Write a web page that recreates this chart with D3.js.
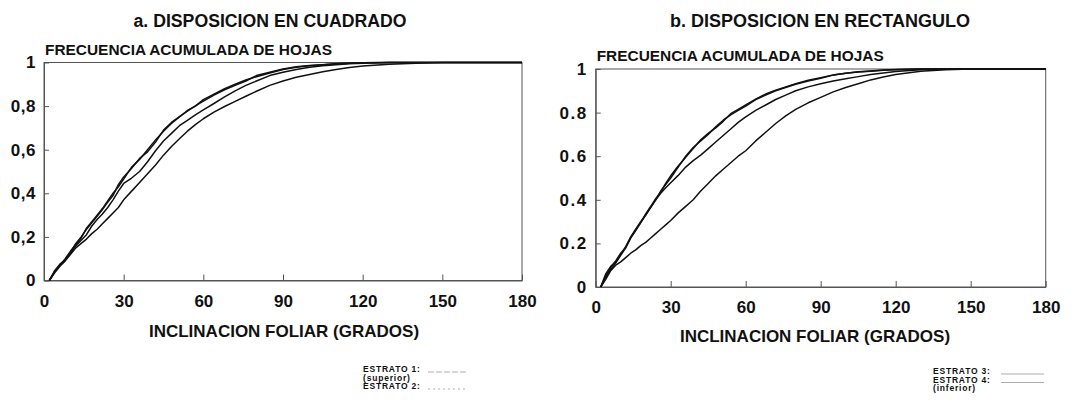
<!DOCTYPE html>
<html>
<head>
<meta charset="utf-8">
<script src="https://cdn.jsdelivr.net/npm/d3@7"></script>
<style>
  body { margin: 0; background: #fff; }
  text { font-family: "Liberation Sans", Arial, sans-serif; font-weight: bold; fill: #111; }
</style>
</head>
<body>
<div id="chart"></div>
<script>
// inclination angles (degrees) shared by every curve
var angles = [2,4,6,8,10,12,14,16,18,20, 22,24,26,28,30,33,36,39,42,45,
  48,51,54,57,60,64,68,72,76,80, 85,90,95,100,105,110,115,120,130,140,
  150,160,170,180];

// a. disposicion en cuadrado
var cuadEstrato1 = [0,0.045,0.075,0.095,0.13,0.17,0.2,0.235,0.265,0.295, 0.325,0.36,0.39,0.44,0.475,0.515,0.56,0.59,0.635,0.69,
  0.725,0.752,0.777,0.801,0.823,0.85,0.875,0.895,0.915,0.94, 0.955,0.97,0.98,0.986,0.99,0.994,0.997,0.999,1,1, 1,1,1,1];
var cuadEstrato2 = [0,0.04,0.07,0.1,0.135,0.165,0.195,0.24,0.27,0.3, 0.33,0.365,0.4,0.43,0.465,0.52,0.555,0.6,0.645,0.685,
  0.72,0.75,0.78,0.8,0.83,0.855,0.88,0.9,0.92,0.935, 0.952,0.968,0.978,0.985,0.99,0.994,0.997,0.999,1,1, 1,1,1,1];
var cuadEstrato3 = [0,0.04,0.07,0.095,0.125,0.16,0.185,0.21,0.25,0.28, 0.305,0.335,0.37,0.41,0.445,0.47,0.5,0.545,0.595,0.64,
  0.675,0.71,0.735,0.76,0.783,0.812,0.842,0.87,0.895,0.915, 0.94,0.955,0.968,0.978,0.985,0.99,0.994,0.997,1,1, 1,1,1,1];
var cuadEstrato4 = [0,0.035,0.065,0.09,0.12,0.15,0.17,0.19,0.215,0.235, 0.26,0.285,0.31,0.335,0.37,0.41,0.45,0.49,0.53,0.575,
  0.615,0.65,0.685,0.715,0.742,0.772,0.798,0.822,0.845,0.868, 0.895,0.915,0.932,0.945,0.958,0.968,0.977,0.984,0.992,0.997, 1,1,1,1];

// b. disposicion en rectangulo
var rectEstrato1 = [0,0.06,0.095,0.115,0.15,0.185,0.23,0.265,0.3,0.33, 0.365,0.4,0.44,0.47,0.5,0.55,0.6,0.64,0.67,0.7,
  0.735,0.765,0.79,0.81,0.83,0.86,0.88,0.9,0.915,0.93, 0.945,0.958,0.972,0.98,0.986,0.99,0.994,0.997,1,1, 1,1,1,1];
var rectEstrato2 = [0,0.05,0.09,0.12,0.155,0.18,0.225,0.26,0.295,0.335, 0.37,0.405,0.435,0.475,0.51,0.555,0.595,0.635,0.675,0.705,
  0.73,0.76,0.795,0.815,0.835,0.862,0.885,0.903,0.918,0.933, 0.948,0.96,0.973,0.981,0.987,0.991,0.995,0.998,1,1, 1,1,1,1];
var rectEstrato3 = [0,0.045,0.08,0.11,0.145,0.18,0.225,0.26,0.295,0.33, 0.365,0.4,0.43,0.455,0.478,0.512,0.55,0.58,0.605,0.635,
  0.665,0.695,0.725,0.755,0.78,0.81,0.835,0.86,0.88,0.9, 0.918,0.932,0.945,0.955,0.965,0.975,0.982,0.988,0.996,1, 1,1,1,1];
var rectEstrato4 = [0,0.035,0.075,0.1,0.115,0.135,0.155,0.17,0.19,0.205, 0.225,0.245,0.265,0.285,0.305,0.34,0.37,0.4,0.44,0.475,
  0.51,0.54,0.57,0.6,0.625,0.67,0.71,0.75,0.785,0.815, 0.845,0.87,0.895,0.915,0.932,0.95,0.963,0.975,0.99,0.997, 1,1,1,1];

var xTicks = [0,30,60,90,120,150,180];
var yTicks = [0,0.2,0.4,0.6,0.8,1];
var yLabelsComma = ['0','0,2','0,4','0,6','0,8','1'];
var yLabelsPoint = ['0','0.2','0.4','0.6','0.8','1'];

var svgWidth = 1074, svgHeight = 402;

var svg = d3.select('#chart')
  .append('svg')
  .attr('width', svgWidth)
  .attr('height', svgHeight);

// draw one panel
function drawPanel(cfg) {
  var x = d3.scaleLinear().domain([0, 180]).range([cfg.left, cfg.right]);
  var y = d3.scaleLinear().domain([0, 1]).range([cfg.bottom, cfg.top]);

  var g = svg.append('g');

  // frame
  g.append('rect')
    .attr('x', cfg.left).attr('y', cfg.top)
    .attr('width', cfg.right - cfg.left)
    .attr('height', cfg.bottom - cfg.top)
    .attr('fill', 'none')
    .attr('stroke', '#555')
    .attr('stroke-width', 1);

  // axes with inward ticks
  var bottomAxis = d3.axisBottom(x).tickValues(xTicks).tickSizeInner(-6).tickSizeOuter(0).tickPadding(14);
  var leftAxis = d3.axisLeft(y).tickValues(yTicks).tickSizeInner(-5).tickSizeOuter(0).tickPadding(8)
    .tickFormat(function(d, i) { return cfg.yLabels[i]; });

  var xAxisG = g.append('g')
    .attr('transform', `translate(0, ${cfg.bottom})`)
    .call(bottomAxis);
  var yAxisG = g.append('g')
    .attr('transform', `translate(${cfg.left}, 0)`)
    .call(leftAxis);

  [xAxisG, yAxisG].forEach(function(a) {
    a.select('.domain').attr('stroke', '#555');
    a.selectAll('.tick line').attr('stroke', '#555');
    a.selectAll('.tick text')
      .attr('fill', '#111')
      .style('font-size', '17px')
      .style('font-family', '"Liberation Sans", Arial, sans-serif')
      .style('font-weight', 'bold');
  });
  yAxisG.selectAll('.tick text').style('letter-spacing', cfg.yLetterSpacing);

  // curves
  var line = d3.line()
    .x(function(d) { return x(d[0]); })
    .y(function(d) { return y(d[1]); });

  cfg.series.forEach(function(s) {
    g.append('path')
      .datum(angles.map(function(a, i) { return [a, s[i]]; }))
      .attr('d', line)
      .attr('fill', 'none')
      .attr('stroke', '#111')
      .attr('stroke-width', 1.5)
      .attr('stroke-linejoin', 'round');
  });

  // titles
  g.append('text')
    .attr('x', cfg.titleX).attr('y', cfg.titleY)
    .attr('text-anchor', 'middle')
    .style('font-size', '18px')
    .attr('textLength', cfg.titleLen)
    .attr('lengthAdjust', 'spacingAndGlyphs')
    .text(cfg.title);

  g.append('text')
    .attr('x', cfg.left + 1).attr('y', cfg.top - 8)
    .style('font-size', '14.5px')
    .attr('textLength', 287)
    .attr('lengthAdjust', 'spacingAndGlyphs')
    .text('FRECUENCIA ACUMULADA DE HOJAS');

  g.append('text')
    .attr('x', cfg.axisTitleX).attr('y', cfg.axisTitleY)
    .attr('text-anchor', 'middle')
    .style('font-size', '17px')
    .text('INCLINACION FOLIAR (GRADOS)');

  // legend
  var lg = g.append('g').attr('transform', `translate(${cfg.legendX}, ${cfg.legendY})`);
  cfg.legend.forEach(function(item, i) {
    lg.append('text')
      .attr('x', 0).attr('y', i * 8.5)
      .style('font-size', '8.5px')
      .style('letter-spacing', '0.8px')
      .text(item.label);
    if (item.dash !== null) {
      lg.append('line')
        .attr('x1', cfg.legendLineX).attr('x2', cfg.legendLineX + cfg.legendLineLen)
        .attr('y1', i * 8.5).attr('y2', i * 8.5)
        .attr('stroke', '#999')
        .attr('stroke-width', 0.8)
        .attr('stroke-dasharray', item.dash);
    }
  });
}

drawPanel({
  left: 44, right: 522, top: 62.5, bottom: 280.5,
  yLabels: yLabelsComma, yLetterSpacing: '0.5px',
  series: [cuadEstrato4, cuadEstrato3, cuadEstrato2, cuadEstrato1],
  title: 'a. DISPOSICION EN CUADRADO', titleX: 270, titleY: 27, titleLen: 273,
  axisTitleX: 284, axisTitleY: 337,
  legendX: 363, legendY: 372, legendLineX: 65, legendLineLen: 40,
  legend: [
    { label: 'ESTRATO 1:', dash: '6,2' },
    { label: '(superior)', dash: null },
    { label: 'ESTRATO 2:', dash: '2,3' }
  ]
});

drawPanel({
  left: 595.7, right: 1045.7, top: 69, bottom: 287,
  yLabels: yLabelsPoint, yLetterSpacing: '1.5px',
  series: [rectEstrato4, rectEstrato3, rectEstrato2, rectEstrato1],
  title: 'b. DISPOSICION EN RECTANGULO', titleX: 820, titleY: 27, titleLen: 300,
  axisTitleX: 815, axisTitleY: 342,
  legendX: 933, legendY: 374, legendLineX: 68, legendLineLen: 43,
  legend: [
    { label: 'ESTRATO 3:', dash: 'none' },
    { label: 'ESTRATO 4:', dash: 'none' },
    { label: '(inferior)', dash: null }
  ]
});
</script>
</body>
</html>
